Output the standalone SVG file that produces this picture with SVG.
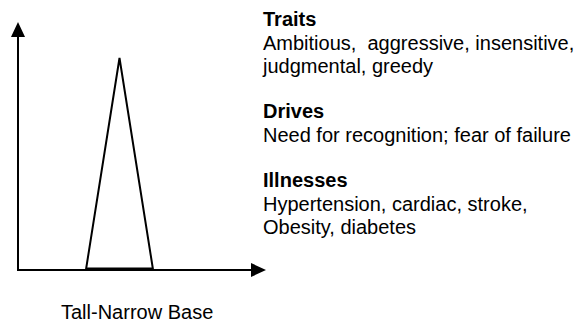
<svg xmlns="http://www.w3.org/2000/svg" width="576" height="324" viewBox="0 0 576 324">
<style>
text{font-family:"Liberation Sans",Arial,sans-serif;font-size:20px;fill:#000}
.b{font-weight:bold}
.ln{stroke:#000;stroke-width:2;fill:none}
</style>
<rect width="576" height="324" fill="#fff"/>
<g id="connectors">
<line class="ln" x1="18" y1="270" x2="18" y2="36"/>
<polygon points="18,22 11,37 25,37" fill="#000"/>
<line class="ln" x1="17" y1="270" x2="252" y2="270"/>
<polygon points="266,270 251,263 251,277" fill="#000"/>
</g>
<g id="triangle">
<polygon class="ln" points="119.5,58 86,269.5 153,269.5"/>
<line x1="86" y1="269" x2="153" y2="269" stroke="#000" stroke-width="3"/>
</g>
<g id="legend">
<text x="263" y="26" class="b">Traits</text>
<text x="263" y="49.5" xml:space="preserve">Ambitious,  aggressive, insensitive,</text>
<text x="263" y="72.5">judgmental, greedy</text>
<text x="263" y="118" class="b">Drives</text>
<text x="263" y="141.5">Need for recognition; fear of failure</text>
<text x="263" y="187" class="b">Illnesses</text>
<text x="263" y="210.5">Hypertension, cardiac, stroke,</text>
<text x="263" y="233.5">Obesity, diabetes</text>
</g>
<g id="caption">
<text x="61" y="319">Tall-Narrow Base</text>
</g>
</svg>
